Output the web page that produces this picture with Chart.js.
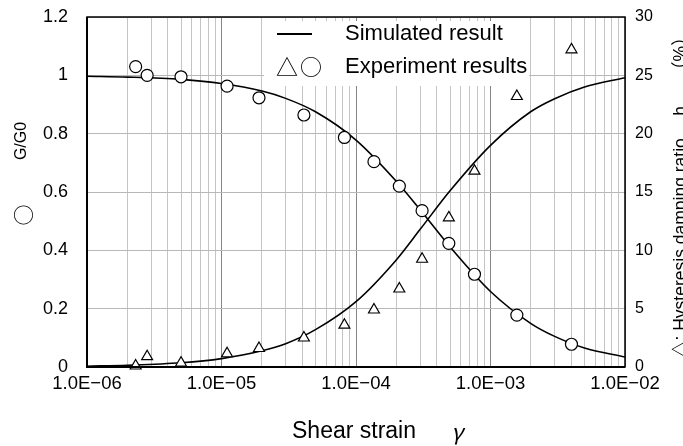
<!DOCTYPE html>
<html>
<head>
<meta charset="utf-8">
<script src="https://cdn.jsdelivr.net/npm/chart.js@4.4.1/dist/chart.umd.min.js"></script>
<style>
  html, body { margin: 0; padding: 0; background: #fff; }
</style>
</head>
<body>
<canvas id="canvasStrain" width="683" height="446"></canvas>
<script>
// Data
// =================================

// experiment points (same strains for both series)
const strainTest = [2.3e-6, 2.8e-6, 5.0e-6, 1.1e-5, 1.9e-5, 4.1e-5, 8.2e-5, 1.36e-4, 2.1e-4, 3.1e-4, 4.9e-4, 7.6e-4, 1.57e-3, 4.0e-3];
const gRatioTest = [1.03, 1.00, 0.995, 0.963, 0.923, 0.864, 0.787, 0.704, 0.620, 0.536, 0.424, 0.318, 0.178, 0.078];
const dampingTest = [0.1, 0.9, 0.35, 1.15, 1.6, 2.5, 3.6, 4.9, 6.7, 9.25, 12.8, 16.8, 23.2, 27.2];

// simulated curves
const strainCurve = [1e-6, 2e-6, 5e-6, 1e-5, 2e-5, 3e-5, 5e-5, 1e-4, 2e-4, 3e-4, 5e-4, 1e-3, 2e-3, 3e-3, 5e-3, 1e-2];
const gRatioCurve = [0.997, 0.994, 0.986, 0.972, 0.946, 0.921, 0.875, 0.778, 0.636, 0.539, 0.412, 0.259, 0.149, 0.105, 0.065, 0.034];
const dampingCurve = [0.07, 0.15, 0.36, 0.72, 1.39, 2.0, 3.2, 5.6, 9.2, 11.8, 15.1, 19.0, 21.9, 23.0, 24.0, 24.8];

// x axis: decades and the log gridlines between them
const decades = [-6, -5, -4, -3, -2];
const decadeLabels = ['1.0E\u221206', '1.0E\u221205', '1.0E\u221204', '1.0E\u221203', '1.0E\u221202'];
const mantissas = [1, 2, 3, 4, 5, 6, 7, 8, 9];

const strainTicks = [];
decades.forEach((d, i) => {
  mantissas.forEach(m => {
    if (i === decades.length - 1 && m > 1) return;
    strainTicks.push(Number((m * Math.pow(10, d)).toPrecision(3)));
  });
});

function decadeLabel(v) {
  const i = decades.findIndex(d => Math.abs(v - Math.pow(10, d)) < Math.pow(10, d) * 1e-6);
  return i >= 0 ? decadeLabels[i] : '';
}

const toXY = (xs, ys) => xs.map((x, i) => ({ x: x, y: ys[i] }));

const latin = '"Liberation Sans", Arial, sans-serif';
const cjk = '"Liberation Sans", "Noto Sans CJK JP", sans-serif';

// legend, titles, frame
// =================================
const sketchPlugin = {
  id: 'sketch',
  beforeDatasetsDraw(chart) {
    const c = chart.ctx;
    c.save();
    c.fillStyle = '#fff';
    c.fillRect(264, 21, 265, 65);
    c.strokeStyle = '#000';
    c.lineWidth = 2;
    c.beginPath();
    c.moveTo(277, 34);
    c.lineTo(312, 34);
    c.stroke();
    c.fillStyle = '#000';
    c.textBaseline = 'middle';
    c.font = '22px ' + latin;
    c.fillText('Simulated result', 345, 34);
    c.fillText('Experiment results', 345, 67);
    c.font = '22px "Noto Sans CJK JP"';
    c.fillText('\u25B3', 276, 67);
    c.fillText('\u25CB', 300, 67);
    c.restore();
  },
  afterDraw(chart) {
    const c = chart.ctx;
    const a = chart.chartArea;
    c.save();
    // frame
    c.strokeStyle = '#000';
    c.lineWidth = 1.5;
    c.strokeRect(a.left, a.top, a.right - a.left, a.bottom - a.top);
    c.lineWidth = 2;
    c.beginPath();
    c.moveTo(a.left, a.top);
    c.lineTo(a.left, a.bottom);
    c.lineTo(a.right, a.bottom);
    c.stroke();

    c.fillStyle = '#000';
    // x title
    c.textBaseline = 'middle';
    c.font = '23px ' + latin;
    c.fillText('Shear strain', 292, 432);
    c.font = 'italic 22px "Noto Sans CJK JP"';
    c.fillText('\u03B3', 451, 432);

    // left title
    c.save();
    c.translate(22, 141);
    c.rotate(-Math.PI / 2);
    c.textAlign = 'center';
    c.font = '16px ' + latin;
    c.fillText('G/G0', 0, 0);
    c.restore();
    c.save();
    c.translate(23, 215);
    c.rotate(-Math.PI / 2);
    c.textAlign = 'center';
    c.font = '21px "Noto Sans CJK JP"';
    c.fillText('\u25CB', 0, 0);
    c.restore();

    // right title (partly cut by the page edge, as in the original)
    c.save();
    c.translate(686, 358);
    c.rotate(-Math.PI / 2);
    c.textAlign = 'left';
    c.textBaseline = 'alphabetic';
    c.font = '17.5px ' + cjk;
    c.fillText('\u25B3: Hysteresis damping ratio\u3000 h \u3000 \uFF08%\uFF09', 0, 0);
    c.restore();
    c.restore();
  }
};

// no label overflow padding on the value axes, so the plot top stays at the layout padding
const noOverflow = s => { s.paddingTop = 0; s.paddingBottom = 0; };

const ctx = document.getElementById('canvasStrain').getContext('2d');
const strainChart = new Chart(ctx, {
  type: 'line',
  data: {
    datasets: [
      {
        label: 'G/G0 experiment',
        data: toXY(strainTest, gRatioTest),
        yAxisID: 'y',
        showLine: false,
        pointStyle: 'circle',
        pointRadius: 6,
        pointBackgroundColor: '#fff',
        pointBorderColor: '#000',
        pointBorderWidth: 1.2,
        clip: false
      },
      {
        label: 'h experiment',
        data: toXY(strainTest, dampingTest),
        yAxisID: 'y2',
        showLine: false,
        pointStyle: 'triangle',
        pointRadius: 6.3,
        pointBackgroundColor: '#fff',
        pointBorderColor: '#000',
        pointBorderWidth: 1.2,
        clip: false
      },
      {
        label: 'G/G0 simulated',
        data: toXY(strainCurve, gRatioCurve),
        yAxisID: 'y',
        borderColor: '#000',
        borderWidth: 1.6,
        pointRadius: 0,
        cubicInterpolationMode: 'monotone',
        fill: false
      },
      {
        label: 'h simulated',
        data: toXY(strainCurve, dampingCurve),
        yAxisID: 'y2',
        borderColor: '#000',
        borderWidth: 1.6,
        pointRadius: 0,
        cubicInterpolationMode: 'monotone',
        fill: false
      }
    ]
  },
  options: {
    responsive: false,
    animation: false,
    layout: { padding: { top: 17, left: 0, right: 0, bottom: 0 } },
    plugins: {
      legend: { display: false },
      tooltip: { enabled: false }
    },
    scales: {
      x: {
        type: 'logarithmic',
        min: 1e-6,
        max: 1e-2,
        afterBuildTicks: s => { s.ticks = strainTicks.map(v => ({ value: v })); },
        afterFit: s => { s.height = 79; },
        border: { display: false },
        grid: {
          drawTicks: false,
          color: c => (c.tick && decadeLabel(c.tick.value) ? '#858585' : '#c4c4c4'),
          lineWidth: 1
        },
        ticks: {
          autoSkip: false,
          maxRotation: 0,
          padding: 6,
          color: '#000',
          font: { family: latin, size: 18.5 },
          callback: v => decadeLabel(v)
        }
      },
      y: {
        position: 'left',
        min: 0,
        max: 1.2,
        afterFit: s => { s.width = 87; noOverflow(s); },
        border: { display: false },
        grid: { drawTicks: false, color: '#b8b8b8', lineWidth: 1 },
        ticks: {
          stepSize: 0.2,
          padding: 19,
          color: '#000',
          font: { family: latin, size: 18 },
          callback: v => String(Math.round(v * 10) / 10)
        }
      },
      y2: {
        position: 'right',
        min: 0,
        max: 30,
        afterFit: s => { s.width = 58; noOverflow(s); },
        border: { display: false },
        grid: { display: false, drawTicks: false },
        ticks: {
          stepSize: 5,
          padding: 10,
          color: '#000',
          font: { family: latin, size: 16 }
        }
      }
    }
  },
  plugins: [sketchPlugin]
});
</script>
</body>
</html>
